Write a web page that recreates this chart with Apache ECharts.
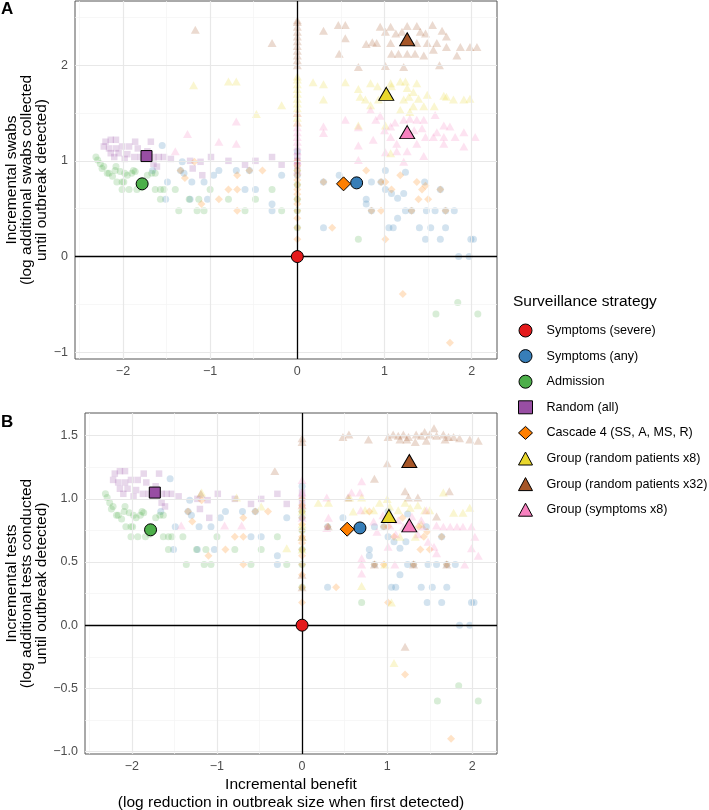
<!DOCTYPE html>
<html><head><meta charset="utf-8">
<script src="https://cdn.jsdelivr.net/npm/echarts@6/dist/echarts.min.js"></script>
<style>html,body{margin:0;padding:0;background:#fff}#c{width:709px;height:810px}</style>
</head><body><div id="c"></div>
<script>
// ---------- data ----------
const strategies = ['Symptoms (severe)','Symptoms (any)','Admission','Random (all)','Cascade 4 (SS, A, MS, R)','Group (random patients x8)','Group (random patients x32)','Group (symptoms x8)'];
const meanBenefit = [0, 0.68, -1.78, -1.73, 0.53, 1.02, 1.26, 1.26];
const meanSwabs   = [0, 0.77, 0.76, 1.05, 0.76, 1.70, 2.27, 1.30];
const meanTests   = [0, 0.77, 0.755, 1.05, 0.76, 0.865, 1.30, 0.79];

const xTicks = [-2,-1,0,1,2];
const xMinor = [-2.5,-1.5,-0.5,0.5,1.5];
const yTicksA = [-1,0,1,2];
const yMinorA = [-0.5,0.5,1.5,2.5];
const yTicksB = [-1.0,-0.5,0,0.5,1.0,1.5];
const yMinorB = [-0.75,-0.25,0.25,0.75,1.25];

// individual scenarios (same swabs/tests for non-group strategies)
const symptomsAnyPts = [[-1.55,1.16],[-1.32,0.99],[-1.30,0.87],[-1.34,0.90],[-1.66,0.90],[-1.49,0.78],[-1.21,0.78],[-1.07,0.78],[-0.96,0.85],[-0.90,0.90],[-0.70,0.90],[-0.55,0.90],[-0.60,0.70],[-0.48,0.70],[-1.51,0.60],[-1.23,0.60],[-1.03,0.60],[-0.29,0.55],[-0.29,0.48],[-0.18,0.85],
 [0.48,0.85],[1.01,0.90],[1.24,0.88],[0.85,0.78],[1.01,0.70],[1.08,0.66],[1.15,0.61],[1.22,0.66],[1.46,0.78],[0.79,0.60],[0.79,0.55],[1.24,0.48],[1.48,0.48],[1.58,0.48],[1.80,0.48],[1.15,0.40],[0.30,0.30],[1.05,0.30],[1.10,0.30],[1.40,0.30],[1.53,0.30],[1.70,0.30],[1.47,0.18],[1.64,0.18],[1.99,0.18],[2.02,0.18],[1.85,0.0],[1.97,0.0],[0.30,0.78],[0.96,0.78],[1.64,0.70],[0.85,0.48],[1.31,0.48],[1.70,0.48],[0,1.10],[0,0.85]];
const admissionPts = [[-2.31,1.04],[-2.29,1.01],[-2.26,0.97],[-2.22,0.94],[-2.24,0.92],[-2.18,0.87],[-2.16,0.87],[-2.12,0.84],[-2.07,0.78],[-2.01,0.78],[-1.99,0.78],[-2.09,0.90],[-2.08,0.94],[-2.03,0.89],[-1.98,0.87],[-1.95,0.85],[-1.90,0.87],[-1.88,0.90],[-1.86,0.89],[-1.93,0.70],[-2.01,0.70],[-1.84,0.70],[-1.79,0.72],[-1.72,0.85],[-1.67,0.87],[-1.63,0.87],[-1.63,0.70],[-1.57,0.70],[-1.53,0.70],[-1.57,0.60],[-1.40,0.70],[-1.24,0.60],[-1.13,0.60],[-1.15,0.48],[-1.07,0.48],[-1.00,0.70],[-0.79,0.60],[-0.60,0.48],[-0.48,0.60],[-0.29,0.70],[-0.18,0.48],[-1.36,0.48],
 [0.70,0.18],[1.84,-0.48],[1.59,-0.60],[2.07,-0.60],[0,0.30],[0,0.48],[0,0.60],[0,0.75],[0,0.90]];
const randomAllPts = [[-2.20,1.20],[-2.14,1.22],[-2.08,1.22],[-2.22,1.15],[-2.16,1.13],[-2.08,1.13],[-2.01,1.15],[-1.93,1.15],[-1.86,1.20],[-1.68,1.20],[-2.14,1.08],[-2.05,1.08],[-1.95,1.07],[-1.87,1.04],[-1.80,1.04],[-1.65,1.04],[-1.59,1.04],[-1.53,1.04],[-1.65,0.97],[-1.61,0.94],[-1.72,1.10],[-1.83,1.13],[-2.10,1.04],[-1.98,1.02],[-1.23,1.00],[-1.11,0.99],[-0.99,1.04],[-1.09,0.85],[-1.20,0.92],[-0.79,1.00],[-0.60,0.96],[-0.48,1.00],[-0.29,1.04],[-0.18,0.96],[-1.45,1.02],[0,0.95],[0,1.00],[0,1.05]];
const cascadePts = [[-1.29,0.82],[-1.10,0.55],[-0.90,0.60],[-0.79,0.70],[-0.69,0.70],[-0.69,0.85],[-0.69,0.48],[-0.40,0.90],[-1.18,0.99],[-1.34,0.90],[-0.55,0.90],
 [0.40,0.30],[0.79,0.90],[1.18,0.85],[1.01,0.78],[1.08,0.70],[1.37,0.78],[1.47,0.74],[1.43,0.70],[1.39,0.60],[1.50,0.60],[0.96,0.48],[1.01,0.18],[1.21,-0.39],[1.75,-0.90],[0.30,0.78],[0.96,0.78],[1.64,0.70],[0.85,0.48],[1.31,0.48],[1.70,0.48],
 [0,0.18],[0,0.30],[0,0.40],[0,0.48],[0,0.55],[0,0.60],[0,0.65],[0,0.70],[0,0.75],[0,0.80],[0,0.85],[0,0.90],[0,0.95],[0,1.00]];

// group strategies, panel A (swabs)
const groupX8SwabPts = [[-1.19,1.79],[-0.79,1.83],[-0.70,1.83],[-0.47,1.49],[-0.18,1.58],[0.18,1.82],[0.30,1.80],[0.30,1.64],[0.55,1.82],[0.70,1.75],[0.72,1.67],[0.78,1.64],[0.84,1.81],[0.92,1.78],[1.07,1.81],[0.93,1.64],[1.08,1.78],[1.18,1.83],[1.24,1.83],[1.37,1.81],[1.26,1.76],[1.33,1.72],[1.28,1.67],[1.39,1.65],[1.22,1.64],[1.49,1.69],[1.45,1.57],[1.33,1.57],[1.29,1.51],[1.18,1.53],[0.84,1.58],[1.57,1.57],[1.68,1.68],[1.71,1.67],[1.79,1.64],[1.91,1.64],[1.98,1.65],[0.70,1.37],[1.01,1.37],[1.07,1.08],[0,1.40],[0,1.45],[0,1.50],[0,1.55],[0,1.60],[0,1.65],[0,1.70],[0,1.75],[0,1.80],[0,1.85],[0,1.88]];
const groupX32SwabPts = [[-1.17,2.37],[-0.29,2.23],[0.30,2.36],[0.47,2.42],[0.55,2.42],[0.55,2.28],[0.48,2.12],[0.70,1.98],[0.79,2.22],[0.86,2.24],[0.95,2.40],[1.01,2.35],[1.07,2.40],[1.13,2.33],[1.20,2.35],[1.26,2.41],[1.37,2.41],[1.41,2.35],[1.47,2.33],[1.55,2.42],[1.66,2.36],[1.71,2.30],[1.60,2.23],[1.49,2.23],[1.37,2.23],[1.07,2.23],[0.91,2.23],[1.08,2.12],[1.16,2.12],[1.26,2.12],[1.35,2.12],[1.45,2.10],[1.56,2.16],[1.71,2.19],[1.87,2.19],[1.98,2.19],[2.06,2.19],[1.83,2.10],[1.63,2.00],[1.22,1.98],[1.01,1.99],[0,2.00],[0,2.05],[0,2.10],[0,2.15],[0,2.20],[0,2.25],[0,2.30],[0,2.35],[0,2.40],[0,2.45],[0,2.47]];
const groupSymSwabPts = [[-1.26,1.28],[-0.90,1.20],[-0.70,1.18],[-0.70,1.41],[-1.40,1.10],[0.30,1.36],[0.30,1.29],[0.55,1.43],[0.70,1.35],[0.70,1.16],[0.84,1.53],[0.90,1.43],[0.95,1.47],[0.87,1.22],[1.00,1.32],[1.07,1.36],[1.12,1.40],[1.07,1.25],[1.14,1.18],[1.22,1.43],[1.29,1.44],[1.37,1.43],[1.45,1.43],[1.43,1.34],[1.34,1.32],[1.47,1.25],[1.37,1.18],[1.26,1.10],[1.14,1.10],[1.01,1.09],[1.45,1.05],[1.58,1.48],[1.68,1.37],[1.75,1.36],[1.60,1.30],[1.68,1.25],[1.81,1.25],[1.91,1.30],[2.04,1.25],[1.91,1.15],[1.68,1.18],[1.56,1.25],[1.22,0.99],[0.70,1.01],[0,0.90],[0,1.00],[0,1.10],[0,1.15],[0,1.20],[0,1.25],[0,1.30],[0,1.35],[0,1.40],[0,1.50]];

// group strategies, panel B (tests)
const groupX8TestPts = [[0.19,0.97],[0.31,0.97],[0.56,1.01],[0.70,1.01],[0.74,0.91],[0.84,0.91],[0.91,0.97],[1.03,0.94],[1.13,0.91],[1.21,0.97],[1.27,0.93],[1.36,0.95],[1.44,0.91],[1.50,0.91],[1.66,1.05],[1.78,0.89],[1.89,0.89],[1.97,0.93],[1.33,0.70],[1.15,0.70],[0.97,0.48],[0.70,0.31],[1.05,0.18],[1.08,-0.30],[-1.18,1.05],[-0.77,1.01],[-0.48,0.94],[-0.18,0.61],[1.00,1.00],[1.40,0.80],[0.60,0.90],[0,0.60],[0,0.70],[0,0.80],[0,0.90],[0,0.95]];
const groupX32TestPts = [[0.48,1.49],[0.55,1.51],[0.78,1.47],[1.01,1.49],[1.07,1.51],[1.13,1.50],[1.19,1.51],[1.25,1.49],[1.34,1.51],[1.40,1.50],[1.44,1.53],[1.55,1.56],[1.50,1.51],[1.58,1.50],[1.66,1.51],[1.72,1.49],[1.78,1.49],[1.85,1.48],[1.97,1.47],[2.07,1.46],[1.33,1.45],[1.23,1.47],[1.15,1.47],[1.46,1.46],[1.68,1.47],[1.00,1.28],[0.85,1.16],[1.21,1.06],[1.73,1.06],[1.36,1.01],[1.25,1.01],[0.54,1.01],[-0.32,1.22],[-1.19,1.04],[1.21,-0.17],[1.58,0.86],[0.31,0.78],[0.85,0.48],[1.31,0.48],[1.70,0.48],[0,1.45],[0,1.48],[0,0.30],[0,0.40],[0,0.70]];
const groupSymTestPts = [[0.31,0.85],[0.70,1.14],[0.58,1.05],[0.69,0.91],[0.84,0.82],[0.88,0.74],[1.03,0.79],[1.10,0.72],[1.19,0.78],[1.29,0.86],[1.40,0.83],[1.46,0.91],[1.42,0.78],[1.36,0.72],[1.48,0.66],[1.58,0.79],[1.66,0.78],[1.74,0.78],[1.82,0.78],[1.89,0.78],[1.99,0.78],[2.03,0.70],[1.55,0.62],[1.58,0.57],[1.99,0.61],[2.07,0.55],[1.01,0.62],[1.09,0.48],[0.70,0.48],[1.91,0.48],[0.68,1.05],[0.95,0.87],[1.13,0.83],[0.70,0.41],[0.70,0.53],[-1.42,0.79],[-0.91,0.79],[-0.71,0.79],[0.29,1.01],[0.29,0.77],[0,1.15],[0,1.05],[0,0.85],[0,0.95]];

// ---------- styles ----------
const F = "'Liberation Sans', Arial, Helvetica, sans-serif";
const colors = ['#E41A1C','#377EB8','#4DAF4A','#984EA3','#FF7F00','#E9D72C','#A65628','#F781BF'];
const icons = ['circle','circle','circle','rect','diamond','triangle','triangle','triangle'];
const faintSize = [7,7,7,6.5,8,[9,8],[9,8],[9,8]];
const meanSize = [12,12,12,11,14,[15,13],[15,13],[15,13]];
const fmtMinus = v => String(v).replace('-', '\u2212');

const faintA = [null, symptomsAnyPts, admissionPts, randomAllPts, cascadePts, groupX8SwabPts, groupX32SwabPts, groupSymSwabPts];
const faintB = [null, symptomsAnyPts, admissionPts, randomAllPts, cascadePts, groupX8TestPts, groupX32TestPts, groupSymTestPts];

function gridLines(idx, xs, ys, style) {
  return {type:'scatter', xAxisIndex:idx, yAxisIndex:idx, data:[], z:1, silent:true,
    markLine:{silent:true, symbol:'none', label:{show:false}, animation:false,
      data:[...xs.map(v=>({xAxis:v, lineStyle:style})), ...ys.map(v=>({yAxis:v, lineStyle:style}))]}};
}
const majorStyle = {color:'#E8E8E8', width:1.2, type:'solid'};
const minorStyle = {color:'#F3F3F3', width:0.7, type:'solid'};
const zeroStyle = {color:'#000', width:1.3, type:'solid'};

const series = [];
[0,1].forEach(p => {
  const yT = p===0 ? yTicksA : yTicksB, yM = p===0 ? yMinorA : yMinorB;
  series.push(gridLines(p, xMinor, yM, minorStyle));
  series.push(gridLines(p, xTicks, yT, majorStyle));
  series.push({type:'scatter', xAxisIndex:p, yAxisIndex:p, data:[], z:2, silent:true,
    markLine:{silent:true, symbol:'none', label:{show:false}, animation:false,
      data:[{xAxis:0, lineStyle:zeroStyle},{yAxis:0, lineStyle:zeroStyle}]}});
  const faint = p===0 ? faintA : faintB;
  faint.forEach((pts, i) => {
    if (!pts) return;
    series.push({type:'scatter', name:strategies[i], xAxisIndex:p, yAxisIndex:p, z:3, silent:true,
      symbol:icons[i], symbolSize:faintSize[i], data:pts,
      itemStyle:{color:colors[i], opacity:0.22, borderWidth:0}});
  });
  const means = p===0 ? meanSwabs : meanTests;
  strategies.forEach((n, i) => {
    series.push({type:'scatter', name:n, xAxisIndex:p, yAxisIndex:p, z:5, silent:true,
      symbol:icons[i], symbolSize:meanSize[i], data:[[meanBenefit[i], means[i]]],
      itemStyle:{color:colors[i], opacity:1, borderColor:'#000', borderWidth:1}});
  });
});

const tickLabel = {color:'#4D4D4D', fontSize:12.5, fontFamily:F};
const xTitle = {color:'#000', fontSize:15.5, fontFamily:F, lineHeight:17.5};
const yTitle = {color:'#000', fontSize:15.5, fontFamily:F, lineHeight:15};

const option = {
  animation:false,
  backgroundColor:'#fff',
  title:[
    {text:'A', left:1, top:1, padding:0, textStyle:{fontSize:17, fontWeight:'bold', color:'#000', fontFamily:F}},
    {text:'B', left:1, top:414, padding:0, textStyle:{fontSize:17, fontWeight:'bold', color:'#000', fontFamily:F}},
    {text:'Surveillance strategy', left:513, top:294, padding:0, textStyle:{fontSize:15.5, fontWeight:'normal', color:'#000', fontFamily:F}}
  ],
  legend:{orient:'vertical', left:518, top:323.5, itemWidth:14, itemHeight:13, itemGap:11.6, padding:0,
    selectedMode:false, textStyle:{fontSize:12.6, color:'#000', fontFamily:F, lineHeight:13, padding:[0,0,0,9]},
    data:strategies.map((n,i)=>({name:n, icon:icons[i], itemStyle:{color:colors[i], borderColor:'#000', borderWidth:1, opacity:1}}))},
  grid:[
    {left:75, top:1, right:212, height:358, show:true, borderColor:'#555', borderWidth:1, backgroundColor:'#fff', outerBoundsMode:'none'},
    {left:85, top:413, right:212, height:341, show:true, borderColor:'#555', borderWidth:1, backgroundColor:'#fff', outerBoundsMode:'none'}
  ],
  xAxis:[0,1].map(p=>({type:'value', gridIndex:p, min:-2.55, max:2.29,
    name: p===1 ? 'Incremental benefit\n(log reduction in outbreak size when first detected)' : '',
    nameLocation:'middle', nameGap:22, nameTextStyle:xTitle,
    axisLine:{show:false}, splitLine:{show:false},
    axisTick:{show:true, length:4, customValues:xTicks, lineStyle:{color:'#333', width:1}},
    axisLabel:{...tickLabel, margin:6, customValues:xTicks, formatter:v=>fmtMinus(v)}})),
  yAxis:[
    {type:'value', gridIndex:0, min:-1.07, max:2.67,
      name:'Incremental swabs\n(log additional swabs collected\nuntil outbreak detected)',
      nameLocation:'middle', nameGap:26, nameRotate:90, nameMoveOverlap:false, nameTextStyle:yTitle,
      axisLine:{show:false}, splitLine:{show:false},
      axisTick:{show:true, length:4, customValues:yTicksA, lineStyle:{color:'#333', width:1}},
      axisLabel:{...tickLabel, margin:7, customValues:yTicksA, formatter:v=>fmtMinus(v)}},
    {type:'value', gridIndex:1, min:-1.02, max:1.68,
      name:'Incremental tests\n(log additional tests conducted\nuntil outbreak detected)',
      nameLocation:'middle', nameGap:36, nameRotate:90, nameMoveOverlap:false, nameTextStyle:yTitle,
      axisLine:{show:false}, splitLine:{show:false},
      axisTick:{show:true, length:4, customValues:yTicksB, lineStyle:{color:'#333', width:1}},
      axisLabel:{...tickLabel, margin:7, customValues:yTicksB, formatter:v=>fmtMinus(Number(v).toFixed(1))}}
  ],
  series
};
const chart = echarts.init(document.getElementById('c'), null, {renderer:'canvas'});
chart.setOption(option);
</script></body></html>
